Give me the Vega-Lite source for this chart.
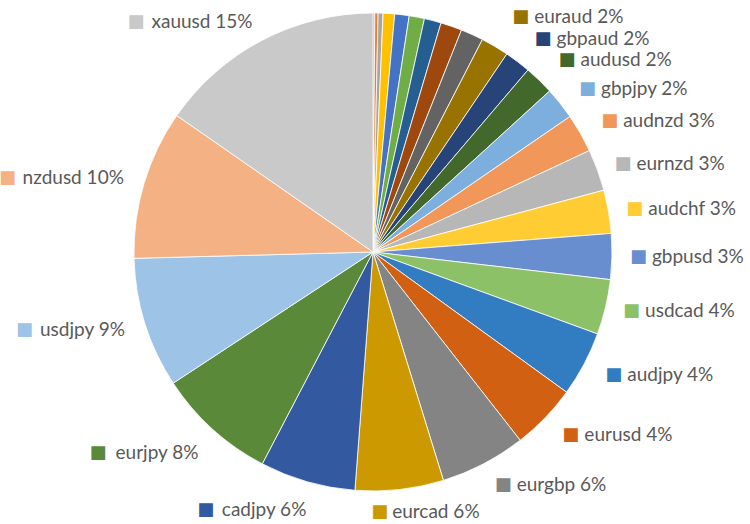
{
  "$schema": "https://vega.github.io/schema/vega-lite/v6.json",
  "width": 746,
  "height": 504,
  "autosize": "none",
  "padding": {"left": 0, "top": 0, "right": 4, "bottom": 20},
  "background": "white",
  "config": {"view": {"stroke": null}},
  "data": {
    "values": [
      {"order": 1, "value": 0.12, "label": ""},
      {"order": 2, "value": 0.22, "label": ""},
      {"order": 3, "value": 0.33, "label": ""},
      {"order": 4, "value": 0.78, "label": ""},
      {"order": 5, "value": 0.97, "label": ""},
      {"order": 6, "value": 1.03, "label": ""},
      {"order": 7, "value": 1.14, "label": ""},
      {"order": 8, "value": 1.44, "label": ""},
      {"order": 9, "value": 1.53, "label": ""},
      {"order": 10, "value": 1.89, "label": "euraud 2%"},
      {"order": 11, "value": 1.76, "label": "gbpaud 2%"},
      {"order": 12, "value": 2.01, "label": "audusd 2%"},
      {"order": 13, "value": 2.17, "label": "gbpjpy 2%"},
      {"order": 14, "value": 2.61, "label": "audnzd 3%"},
      {"order": 15, "value": 2.81, "label": "eurnzd 3%"},
      {"order": 16, "value": 2.92, "label": "audchf 3%"},
      {"order": 17, "value": 3.08, "label": "gbpusd 3%"},
      {"order": 18, "value": 3.72, "label": "usdcad 4%"},
      {"order": 19, "value": 4.40, "label": "audjpy 4%"},
      {"order": 20, "value": 4.46, "label": "eurusd 4%"},
      {"order": 21, "value": 5.79, "label": "eurgbp 6%"},
      {"order": 22, "value": 5.96, "label": "eurcad 6%"},
      {"order": 23, "value": 6.45, "label": "cadjpy 6%"},
      {"order": 24, "value": 8.08, "label": "eurjpy 8%"},
      {"order": 25, "value": 8.81, "label": "usdjpy 9%"},
      {"order": 26, "value": 10.08, "label": "nzdusd 10%"},
      {"order": 27, "value": 15.31, "label": "xauusd 15%"}
    ]
  },
  "encoding": {
    "theta": {"field": "value", "type": "quantitative", "stack": true},
    "order": {"field": "order", "type": "quantitative"},
    "color": {
      "field": "order",
      "type": "nominal",
      "legend": null,
      "scale": {
        "domain": [1,2,3,4,5,6,7,8,9,10,11,12,13,14,15,16,17,18,19,20,21,22,23,24,25,26,27],
        "range": ["#5B9BD5","#ED7D31","#A5A5A5","#FFC000","#4472C4","#70AD47","#255E91","#9E480E","#636363","#997300","#264478","#43682B","#7CAFDD","#F1975A","#B7B7B7","#FFCD33","#698ED0","#8CC168","#327DC2","#D26012","#848484","#CC9A00","#335AA1","#5A8A39","#9DC3E6","#F4B183","#C9C9C9"]
      }
    }
  },
  "layer": [
    {
      "mark": {"type": "arc", "outerRadius": 239, "stroke": "white", "strokeWidth": 0.8}
    },
    {
      "mark": {
        "type": "text",
        "font": "DejaVu Sans",
        "fontSize": 18,
        "baseline": "middle",
        "radius": {"expr": "datum.order == 10 ? 273 : datum.order <= 12 ? 267 : datum.order <= 14 ? 263 : datum.order <= 18 ? 257 : datum.order <= 21 ? 263 : datum.order == 22 ? 262 : datum.order == 23 ? 264 : 260"},
        "align": {"expr": "datum.order >= 23 ? 'right' : 'left'"},
        "dx": {"expr": "datum.order >= 23 ? (-(16 * length(datum.label) - 52) + (datum.order == 23 ? 6 : 0)) : (datum.order == 22 ? -31 : 0)"},
        "dy": {"expr": "datum.order == 23 ? 4 : datum.order == 24 ? 8 : 0"}
      },
      "encoding": {
        "text": {"condition": {"test": "datum.label !== ''", "value": "■"}, "value": ""}
      }
    },
    {
      "mark": {
        "type": "text",
        "font": "Lato",
        "fontSize": 19,
        "baseline": "middle",
        "radius": {"expr": "datum.order == 10 ? 273 : datum.order <= 12 ? 267 : datum.order <= 14 ? 263 : datum.order <= 18 ? 257 : datum.order <= 21 ? 263 : datum.order == 22 ? 262 : datum.order == 23 ? 264 : 260"},
        "align": {"expr": "datum.order >= 23 ? 'right' : 'left'"},
        "dx": {"expr": "datum.order >= 23 ? (datum.order == 23 ? 6 : 0) : (datum.order == 22 ? -10 : 22)"},
        "dy": {"expr": "datum.order == 23 ? 4 : datum.order == 24 ? 8 : 0"}
      },
      "encoding": {
        "text": {"field": "label", "type": "nominal"},
        "color": {"value": "#595959"},
        "detail": {"field": "order", "type": "nominal"}
      }
    }
  ]
}
